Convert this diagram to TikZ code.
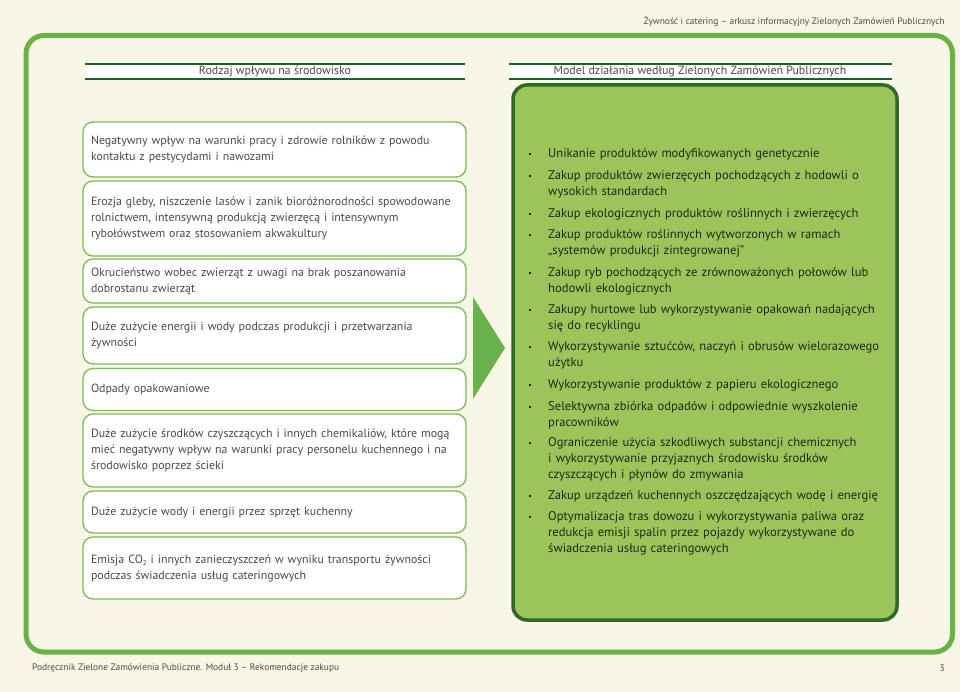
\documentclass[tikz,border=0pt]{standalone}
\usepackage{fontspec}
\setmainfont{PT Sans}
\begin{document}
\begin{tikzpicture}[x=1pt,y=-1pt]
\definecolor{bg}{HTML}{F8F6E6}
\definecolor{frame}{HTML}{6BB245}
\definecolor{lborder}{HTML}{7CBA57}
\definecolor{arrowc}{HTML}{6AB24B}
\definecolor{rfill}{HTML}{9BC45B}
\definecolor{rborder}{HTML}{2E6A28}
\definecolor{hline}{HTML}{1F5F2F}
\definecolor{ltext}{HTML}{4A4A4A}
\definecolor{rtext}{HTML}{1E2A18}
\tikzset{
  lbox/.style={draw=lborder, line width=1.3pt, fill=white, rounded corners=10pt,
    text width=367pt, inner xsep=8pt, inner ysep=0pt, align=left, text=ltext,
    font=\fontsize{11.9}{16}\selectfont, minimum width=383pt},
  ritem/.style={anchor=west, inner sep=0pt, text width=350pt, align=left, text=rtext,
    font=\fontsize{12.6}{16}\selectfont},
  bul/.style={rectangle, fill=rtext, minimum size=2.2pt, inner sep=0pt},
  hdtext/.style={text=ltext, font=\fontsize{11.9}{14}\selectfont, inner sep=0pt},
  small/.style={text=ltext, font=\fontsize{9.4}{11}\selectfont, inner sep=0pt}
}
\fill[bg] (0,0) rectangle (960,692);
\useasboundingbox (0,0) rectangle (960,692);
% header / footer
\node[small, anchor=east] (top) at (945,22) {Żywność i catering – arkusz informacyjny Zielonych Zamówień Publicznych};
\node[small, anchor=west] (foot) at (32,668) {Podręcznik Zielone Zamówienia Publiczne. Moduł 3 – Rekomendacje zakupu};
\node[small, anchor=east] (page) at (945,668) {3};
% frame
\draw[frame, line width=5pt, rounded corners=18pt] (26,35.5) rectangle (952.5,652);
% column headers
\fill[white] (85,64) rectangle (465,79);
\draw[hline, line width=1.5pt] (85,64) -- (465,64) (85,79) -- (465,79);
\node[hdtext] (hl) at (275,71.5) {Rodzaj wpływu na środowisko};
\fill[white] (509,64) rectangle (892,79);
\draw[hline, line width=1.5pt] (509,64) -- (892,64) (509,79) -- (892,79);
\node[hdtext] (hr) at (700,71.5) {Model działania według Zielonych Zamówień Publicznych};
% left boxes
\node[lbox, minimum height=55pt] (l1) at (274.5,149.5) {\strut Negatywny wpływ na warunki pracy i zdrowie rolników z powodu\\kontaktu z pestycydami i nawozami\strut};
\node[lbox, minimum height=75pt] (l2) at (274.5,218.5) {\strut Erozja gleby, niszczenie lasów i zanik bioróżnorodności spowodowane\\rolnictwem, intensywną produkcją zwierzęcą i intensywnym\\rybołówstwem oraz stosowaniem akwakultury\strut};
\node[lbox, minimum height=44pt] (l3) at (274.5,281) {\strut Okrucieństwo wobec zwierząt z uwagi na brak poszanowania\\dobrostanu zwierząt\strut};
\node[lbox, minimum height=57pt] (l4) at (274.5,335.5) {\strut Duże zużycie energii i wody podczas produkcji i przetwarzania\\żywności\strut};
\node[lbox, minimum height=42pt] (l5) at (274.5,389.5) {\strut Odpady opakowaniowe\strut};
\node[lbox, minimum height=73pt] (l6) at (274.5,450.5) {\strut Duże zużycie środków czyszczących i innych chemikaliów, które mogą\\mieć negatywny wpływ na warunki pracy personelu kuchennego i na\\środowisko poprzez ścieki\strut};
\node[lbox, minimum height=42pt] (l7) at (274.5,512) {\strut Duże zużycie wody i energii przez sprzęt kuchenny\strut};
\node[lbox, minimum height=62pt] (l8) at (274.5,568) {\strut Emisja CO\raisebox{-2.5pt}{\fontsize{7}{8}\selectfont 2} i innych zanieczyszczeń w wyniku transportu żywności\\podczas świadczenia usług cateringowych\strut};
% arrow
\fill[arrowc] (473,297) -- (505,348) -- (473,399) -- cycle;
% right box
\node[draw=rborder, fill=rfill, line width=3.5pt, rounded corners=14pt,
  minimum width=384pt, minimum height=535pt, inner sep=0pt] (model) at (705,352.5) {};
\foreach \n/\y/\t in {
 1/154/{Unikanie produktów modyfikowanych genetycznie},
 2/184/{Zakup produktów zwierzęcych pochodzących z hodowli o\\wysokich standardach},
 3/214/{Zakup ekologicznych produktów roślinnych i zwierzęcych},
 4/243.5/{Zakup produktów roślinnych wytworzonych w ramach\\„systemów produkcji zintegrowanej”},
 5/281/{Zakup ryb pochodzących ze zrównoważonych połowów lub\\hodowli ekologicznych},
 6/318/{Zakupy hurtowe lub wykorzystywanie opakowań nadających\\się do recyklingu},
 7/355.5/{Wykorzystywanie sztućców, naczyń i obrusów wielorazowego\\użytku},
 8/385/{Wykorzystywanie produktów z papieru ekologicznego},
 9/415/{Selektywna zbiórka odpadów i odpowiednie wyszkolenie\\pracowników},
 10/459.5/{Ograniczenie użycia szkodliwych substancji chemicznych\\i~wykorzystywanie przyjaznych środowisku środków\\czyszczących i płynów do zmywania},
 11/496.5/{Zakup urządzeń kuchennych oszczędzających wodę i energię},
 12/533.5/{Optymalizacja tras dowozu i wykorzystywania paliwa oraz\\redukcja emisji spalin przez pojazdy wykorzystywane do\\świadczenia usług cateringowych}}{
  \node[ritem] (r\n) at (548,\y) {\strut\t\strut};
  \path (r\n.north west) ++(-18,8) node[bul] (b\n) {};
}
\end{tikzpicture}
\end{document}
